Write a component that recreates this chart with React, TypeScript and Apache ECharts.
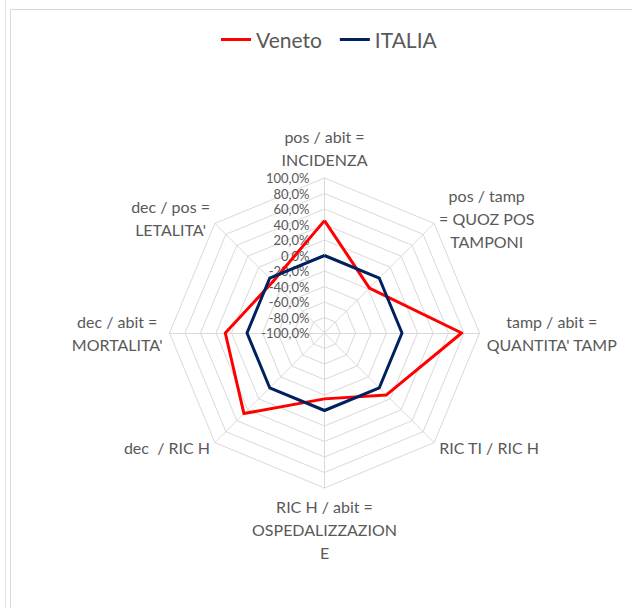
import React, { useEffect, useRef } from "react";
import * as echarts from "echarts";

const categories = [
  "pos / abit =\nINCIDENZA",
  "pos / tamp\n= QUOZ POS\nTAMPONI",
  "tamp / abit =\nQUANTITA' TAMP",
  "RIC TI / RIC H",
  "RIC H / abit =\nOSPEDALIZZAZION\nE",
  "dec  / RIC H",
  "dec / abit =\nMORTALITA'",
  "dec / pos =\nLETALITA'",
];
const seriesNames = ["Veneto", "ITALIA"];
const veneto = [45, -18, 77, 13, -15, 47, 28, -6];
const italia = [0, 0, 0, 0, 0, 0, 0, 0];
const axisMin = -100;
const axisMax = 100;

const FONT = "Lato";
const TEXT = "#595959";
const GRID = "#d9d9d9";

// ECharts lays radar indicators counter-clockwise; Excel goes clockwise.
const order = [0, 7, 6, 5, 4, 3, 2, 1];

export default function App() {
  const ref = useRef<HTMLDivElement>(null);
  useEffect(() => {
    if (!ref.current) return;
    const chart = echarts.init(ref.current, undefined, { renderer: "svg" });
    const fmt = (v: number) => v.toFixed(1).replace(".", ",") + "%";
    const option: any = {
      animation: false,
      backgroundColor: "#ffffff",
      graphic: [
        { type: "line", shape: { x1: 5.5, y1: 0, x2: 5.5, y2: 608 }, style: { stroke: "#e3e3e3", lineWidth: 1 } },
        { type: "line", shape: { x1: 10.5, y1: 9.5, x2: 632, y2: 9.5 }, style: { stroke: GRID, lineWidth: 1 } },
        { type: "line", shape: { x1: 10.5, y1: 9.5, x2: 10.5, y2: 608 }, style: { stroke: GRID, lineWidth: 1 } },
      ],
      legend: {
        data: seriesNames.map((n) => ({ name: n, icon: "rect" })),
        left: 216,
        top: 24,
        itemWidth: 30,
        itemHeight: 3,
        itemGap: 18,
        textStyle: { fontSize: 21, color: TEXT, fontFamily: FONT },
      },
      radar: {
        center: [324.5, 333],
        radius: 155,
        startAngle: 90,
        shape: "polygon",
        splitNumber: 10,
        nameGap: 7,
        indicator: order.map((i, k) => ({
          name: categories[i],
          min: axisMin,
          max: axisMax,
          axisLabel: { show: k === 0 },
        })),
        axisName: {
          color: TEXT,
          fontSize: 16,
          fontFamily: FONT,
          formatter: (name: string) =>
            name
              .split("\n")
              .map((l) => `{c|${l}}`)
              .join("\n"),
          rich: {
            c: { align: "center", fontSize: 16, fontFamily: FONT, color: TEXT, lineHeight: 23 },
          },
        },
        axisLine: { lineStyle: { color: GRID, width: 1 } },
        splitLine: { lineStyle: { color: GRID, width: 1 } },
        splitArea: { show: false },
        axisTick: { show: false },
        axisLabel: {
          show: false,
          color: TEXT,
          fontSize: 13,
          fontFamily: FONT,
          margin: 15,
          formatter: fmt,
          showMinLabel: true,
          showMaxLabel: true,
        },
      },
      series: [
        {
          type: "radar",
          symbol: "none",
          data: [
            {
              name: seriesNames[0],
              value: order.map((i) => veneto[i]),
              lineStyle: { color: "#ff0000", width: 3 },
              itemStyle: { color: "#ff0000" },
            },
            {
              name: seriesNames[1],
              value: order.map((i) => italia[i]),
              lineStyle: { color: "#002060", width: 3 },
              itemStyle: { color: "#002060" },
            },
          ],
        },
      ],
    };
    chart.setOption(option);
    return () => chart.dispose();
  }, []);
  return (
    <div
      ref={ref}
      style={{ position: "absolute", left: 0, top: 0, width: 632, height: 608 }}
    />
  );
}
